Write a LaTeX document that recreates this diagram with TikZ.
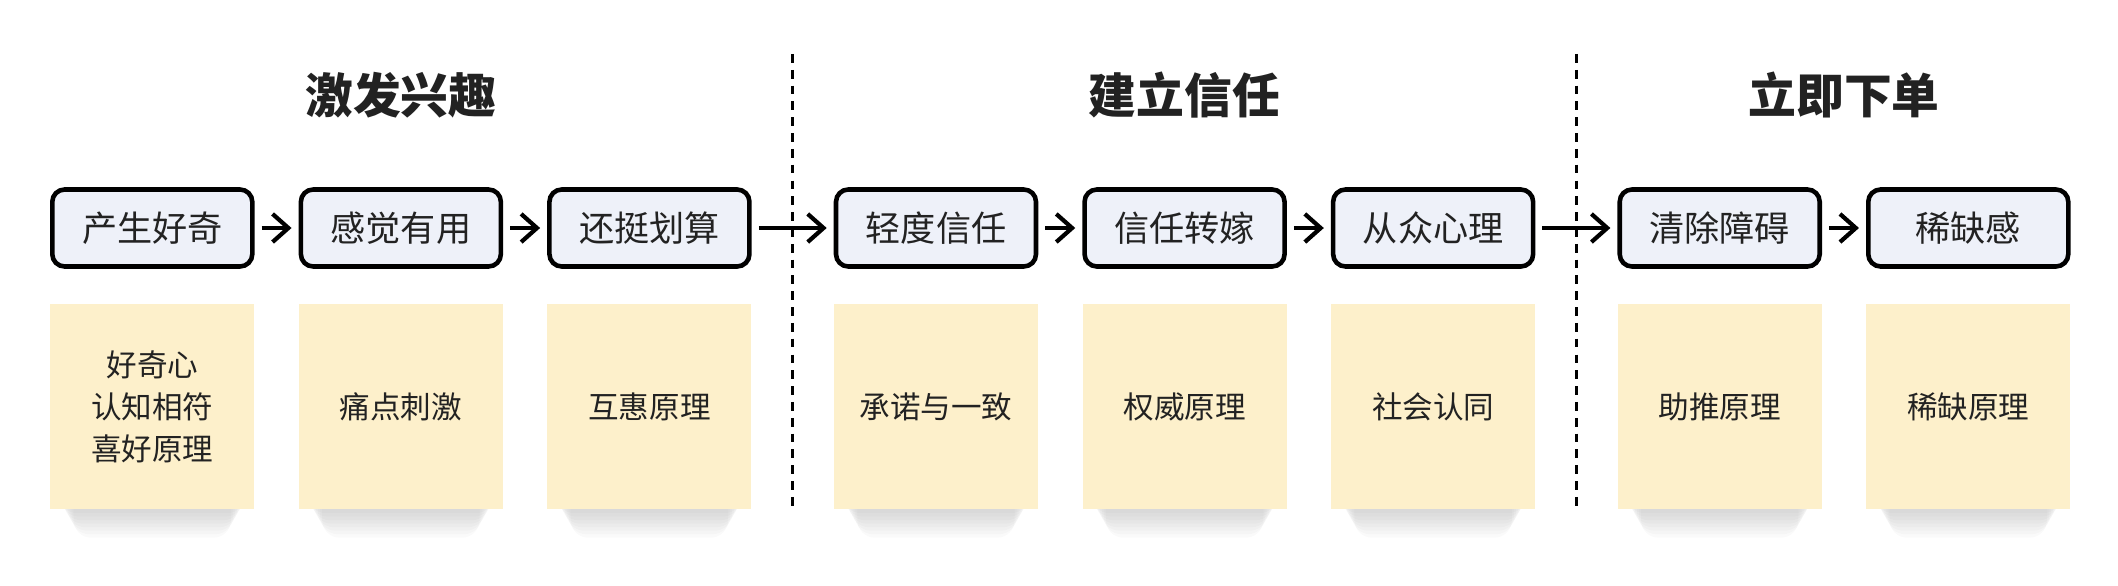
\documentclass[tikz,border=0pt]{standalone}
\usepackage{fontspec}
\setmainfont{Noto Sans CJK SC}
\usetikzlibrary{arrows.meta,positioning,calc,backgrounds}
\definecolor{stepfill}{HTML}{EEF1F9}
\definecolor{notefill}{HTML}{FDF0CB}
\definecolor{ink}{HTML}{222222}

\begin{document}
\begin{tikzpicture}[
  stage/.style={draw=black, line width=1.3pt, rounded corners=3.5pt, fill=stepfill, minimum width=2cm, minimum height=0.77cm, inner sep=0pt, font=\fontsize{10}{12}\selectfont, text=ink},
  note/.style={fill=notefill, minimum width=2.04cm, minimum height=2.05cm, inner sep=0pt, align=center, font=\fontsize{8.7}{12}\selectfont, text=ink},
  phase/.style={font=\fontsize{13.6}{16}\selectfont\bfseries, text=ink},
  flow/.style={-{Straight Barb[length=4.5pt,width=8pt]}, line width=1.2pt, shorten <=2pt, shorten >=2pt},
  sep/.style={dash pattern=on 2.5pt off 2pt, line width=0.9pt},
  node distance=0.44cm
]
\useasboundingbox (0,0) rectangle (21.18,-5.86);

% steps
\node[stage] (s1) at (1.523,-2.28) {产生好奇};
\node[stage, right=of s1] (s2) {感觉有用};
\node[stage, right=of s2] (s3) {还挺划算};
\node[stage, right=0.82cm of s3] (s4) {轻度信任};
\node[stage, right=of s4] (s5) {信任转嫁};
\node[stage, right=of s5] (s6) {从众心理};
\node[stage, right=0.82cm of s6] (s7) {清除障碍};
\node[stage, right=of s7] (s8) {稀缺感};

\foreach \a/\b in {s1/s2,s2/s3,s3/s4,s4/s5,s5/s6,s6/s7,s7/s8}
  \draw[flow] (\a) -- (\b);

% principles
\node[note, below=0.35cm of s1] (r1) {好奇心\\认知相符\\喜好原理};
\node[note, below=0.35cm of s2] (r2) {痛点刺激};
\node[note, below=0.35cm of s3] (r3) {互惠原理};
\node[note, below=0.35cm of s4] (r4) {承诺与一致};
\node[note, below=0.35cm of s5] (r5) {权威原理};
\node[note, below=0.35cm of s6] (r6) {社会认同};
\node[note, below=0.35cm of s7] (r7) {助推原理};
\node[note, below=0.35cm of s8] (r8) {稀缺原理};

\begin{scope}[on background layer]
  \foreach \n in {1,...,8}
    \foreach \k in {0,...,7}
      \fill[black, opacity=0.018, rounded corners=5pt]
        ([xshift={0.1cm+\k*0.02cm}, yshift=0.3cm]r\n.south west) rectangle
        ([xshift={-0.1cm-\k*0.02cm}, yshift={-0.03cm-\k*0.035cm}]r\n.south east);
\end{scope}

% phases
\node[phase] (p1) at ($(s1)!0.5!(s3)+(0,1.33)$) {激发兴趣};
\node[phase] (p2) at ($(s4)!0.5!(s6)+(0,1.33)$) {建立信任};
\node[phase] (p3) at ($(s7)!0.5!(s8)+(0,1.33)$) {立即下单};

\coordinate (d1) at ($(s3.east)!0.5!(s4.west)$);
\coordinate (d2) at ($(s6.east)!0.5!(s7.west)$);
\draw[sep] ([yshift=1.74cm]d1) -- ([yshift=-2.79cm]d1);
\draw[sep] ([yshift=1.74cm]d2) -- ([yshift=-2.79cm]d2);
\end{tikzpicture}
\end{document}
